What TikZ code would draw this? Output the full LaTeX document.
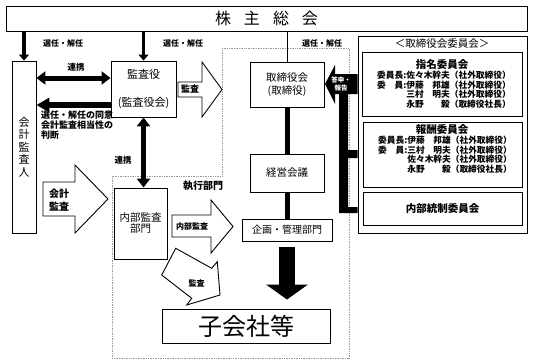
\documentclass[tikz,border=0pt]{standalone}
\usepackage{fontspec}
\setmainfont{Noto Sans CJK JP}
\usetikzlibrary{arrows.meta,positioning,calc}

\begin{document}
\begin{tikzpicture}[x=1pt, y=-1pt,
    box/.style={rectangle, draw, line width=0.9pt, inner sep=0pt, align=center},
    lbl/.style={inner sep=0pt, align=left, font=\bfseries\fontsize{8}{10}\selectfont},
    downarrow/.style={-{Triangle[length=6pt,width=10pt]}, line width=3.5pt},
    linkarrow/.style={{Triangle[length=9pt,width=13pt]}-{Triangle[length=9pt,width=13pt]}, line width=5pt},
    backarrow/.style={-{Triangle[length=13pt,width=14pt]}, line width=6pt},
    hollow/.style={draw, fill=white, line width=0.9pt, line join=miter},
    bigarrow/.style={-{Triangle[length=15pt,width=41pt]}, line width=16pt}
]
\useasboundingbox (0,0) rectangle (533,362);

% executive area
\draw[gray!80, densely dotted, line width=0.7pt] (222,48) -- (349,48) -- (349,358) -- (112,358) -- (112,176) -- (222,176) -- cycle;
\node[lbl, font=\bfseries\fontsize{10}{12}\selectfont] (shikkou) at (203,186) {執行部門};

% boxes
\node[box, minimum width=521pt, minimum height=25pt, font=\fontsize{16}{18}\selectfont] (soukai) at (266.5,18.5) {株\hspace{13pt}主\hspace{13pt}総\hspace{13pt}会};
\node[box, minimum width=24pt, minimum height=172pt, font=\fontsize{11}{12.5}\selectfont] (kaikei) at (24,147) {会\\計\\監\\査\\人};
\node[box, minimum width=65pt, minimum height=56pt, font=\fontsize{11}{12}\selectfont] (kansa) at (143.5,89) {監査役\\[16pt](監査役会)};
\node[box, minimum width=74pt, minimum height=45pt, font=\fontsize{10.5}{13}\selectfont] (torishimari) at (287,84.5) {取締役会\\(取締役)};
\node[box, minimum width=74pt, minimum height=38pt, font=\fontsize{10.5}{12}\selectfont] (keiei) at (287,173) {経営会議};
\node[box, minimum width=90pt, minimum height=22pt, font=\fontsize{10}{12}\selectfont] (kikaku) at (287,230) {企画・管理部門};
\node[box, minimum width=53pt, minimum height=71pt, font=\fontsize{10.5}{11}\selectfont] (naibu) at (140.5,223.5) {内部監査\\部門};
\node[box, minimum width=168pt, minimum height=34pt, font=\fontsize{24}{26}\selectfont] (kogaisha) at (246,326) {子会社等};

% committees
\node[box, minimum width=169pt, minimum height=197pt] (iinkai) at (442.5,134.5) {};
\node[inner sep=0pt, font=\fontsize{10.5}{12}\selectfont] (iinkaititle) at (442,44) {＜取締役会委員会＞};
\node[box, minimum width=160pt, minimum height=64pt] (shimei) at (442,84) {};
\node[inner sep=0pt, font=\bfseries\fontsize{10.5}{12}\selectfont] (shimeititle) at (442,64) {指名委員会};
\node[lbl, anchor=west, font=\bfseries\fontsize{8.7}{9.6}\selectfont] (shimeimem) at (377,89.5) {委員長:佐々木幹夫（社外取締役）\\委\hspace{1em}員:伊藤\hspace{1em}邦雄（社外取締役）\\\phantom{委員長:}三村\hspace{1em}明夫（社外取締役）\\\phantom{委員長:}永野\hspace{2em}毅（取締役社長）};
\node[box, minimum width=159pt, minimum height=65pt] (houshu) at (442.5,154.5) {};
\node[inner sep=0pt, font=\bfseries\fontsize{10.5}{12}\selectfont] (houshutitle) at (442,130) {報酬委員会};
\node[lbl, anchor=west, font=\bfseries\fontsize{8.7}{9.6}\selectfont] (houshumem) at (378,154.5) {委員長:伊藤\hspace{1em}邦雄（社外取締役）\\委\hspace{1em}員:三村\hspace{1em}明夫（社外取締役）\\\phantom{委員長:}佐々木幹夫（社外取締役）\\\phantom{委員長:}永野\hspace{2em}毅（取締役社長）};
\node[box, minimum width=159pt, minimum height=33pt, font=\bfseries\fontsize{10.5}{12}\selectfont] (naibutousei) at (442.5,208.5) {内部統制委員会};

% appointment
\draw[downarrow] (kaikei.north |- soukai.south) -- (kaikei.north);
\node[lbl] (senin1) at (63,43) {選任・解任};
\draw[downarrow] (kansa.north |- soukai.south) -- (kansa.north);
\node[lbl] (senin2) at (183,43) {選任・解任};
\draw[line width=0.9pt] (torishimari.north |- soukai.south) -- (torishimari.north);
\node[lbl] (senin3) at (322,43) {選任・解任};

% auditors
\coordinate (rk) at (0,78);
\draw[linkarrow] (kaikei.east |- rk) -- (kansa.west |- rk);
\node[lbl, font=\bfseries\fontsize{8.5}{10}\selectfont] (renkei1) at (76,67) {連携};
\coordinate (dz) at (0,105);
\draw[backarrow] (kansa.west |- dz) -- (kaikei.east |- dz);
\node[lbl, anchor=west, font=\bfseries\fontsize{9}{10}\selectfont] (doui) at (41,125) {選任・解任の同意\\会計監査相当性の\\判断};
\draw[linkarrow] (kansa.south) -- (kansa.south |- naibu.north);
\node[lbl, font=\bfseries\fontsize{8.5}{10}\selectfont] (renkei2) at (123,160) {連携};

% management line
\draw[line width=5pt] (torishimari.south) -- (keiei.north);
\draw[line width=5pt] (keiei.south) -- (kikaku.north);
\draw[bigarrow, shorten <=6pt, shorten >=9pt] (kikaku.south) -- (kikaku.south |- kogaisha.north);

% audit arrows
\draw[hollow] (178,82) -- (202,82) -- (202,62) -- (222,89.5) -- (202,117) -- (202,97) -- (178,97) -- cycle;
\node[lbl, font=\bfseries\fontsize{9}{10}\selectfont] (kansa1) at (190,89.5) {監査};
\draw[hollow] (43,182) -- (75,182) -- (75,165) -- (108,199) -- (75,233) -- (75,216) -- (43,216) -- cycle;
\node[lbl, font=\bfseries\fontsize{10}{13}\selectfont] (kaikeikansa) at (59,200) {会計\\監査};
\draw[hollow] (172,215) -- (211,215) -- (211,200) -- (233,226.5) -- (211,253) -- (211,237) -- (172,237) -- cycle;
\node[lbl] (naibukansa) at (192,226) {内部監査};
\draw[hollow] (175.7,248.3) -- (211.7,268.3) -- (217.3,261.7) -- (220,295) -- (186.7,305) -- (191.7,298.3) -- (161.7,275) -- cycle;
\node[lbl] (kansa2) at (196.7,283.3) {監査};

% report from committees
\fill (325,84) -- (335,65) -- (335,74) -- (iinkai.west |- 0,74) -- (iinkai.west |- 0,94) -- (348,94) -- (348,150)
  -- (iinkai.west |- 0,150) -- (iinkai.west |- 0,158) -- (348,158) -- (348,207) -- (iinkai.west |- 0,207)
  -- (iinkai.west |- 0,213) -- (339,213) -- (339,94) -- (335,94) -- (335,104) -- cycle;
\node[lbl, align=center, text=white, font=\bfseries\fontsize{6.5}{8}\selectfont] (toushin) at (341,84.5) {答申・\\報告};
\end{tikzpicture}
\end{document}
